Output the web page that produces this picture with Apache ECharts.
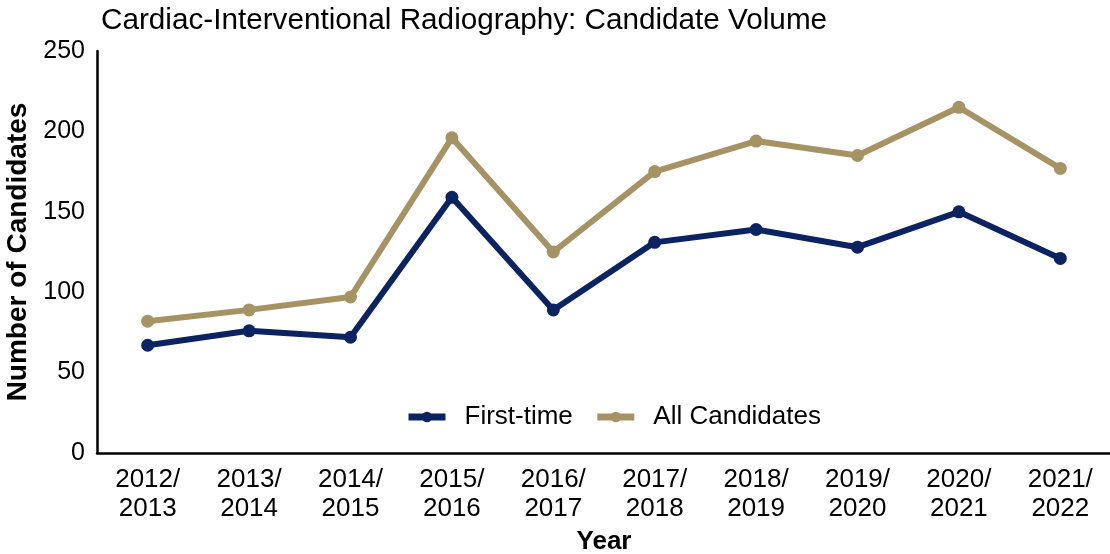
<!DOCTYPE html>
<html>
<head>
<meta charset="utf-8">
<script src="https://cdn.jsdelivr.net/npm/echarts@6/dist/echarts.min.js"></script>
<style>
  html, body { margin: 0; padding: 0; background: #fff; }
  #chart { width: 1110px; height: 554px; }
</style>
</head>
<body>
<div id="chart"></div>
<script>
// values
const years = ['2012/\n2013', '2013/\n2014', '2014/\n2015', '2015/\n2016', '2016/\n2017',
  '2017/\n2018', '2018/\n2019', '2019/\n2020', '2020/\n2021', '2021/\n2022']
const firstTime = [67, 76, 72, 159, 89, 131, 139, 128, 150, 121]
const allCandidates = [82, 89, 97, 196, 125, 175, 194, 185, 215, 177]
const yTicks = [0, 50, 100, 150, 200, 250]

const FONT = 'Liberation Sans, Arial, sans-serif'
const NAVY = '#0b2461'
const GOLD = '#a59364'

const chart = echarts.init(document.getElementById('chart'), null, { renderer: 'canvas' })

const mkSeries = (name, data, color) => ({
  name,
  type: 'line',
  data,
  symbol: 'circle',
  symbolSize: 13,
  itemStyle: { color },
  lineStyle: { color, width: 6 },
  emphasis: { disabled: true },
  z: name === 'First-time' ? 3 : 2
})

chart.setOption({
  animation: false,
  backgroundColor: '#fff',
  title: {
    text: 'Cardiac-Interventional Radiography: Candidate Volume',
    left: 96,
    top: 1,
    textStyle: { fontFamily: FONT, fontWeight: 'normal', fontSize: 29.7, color: '#000' }
  },
  // v6 would otherwise shrink the grid to keep the axis names inside
  grid: { left: 97, right: -1, top: 51, bottom: 101, containLabel: false, outerBoundsMode: 'none' },
  legend: {
    left: 400,
    top: 399,
    itemWidth: 37,
    itemHeight: 13,
    itemGap: 21,
    lineStyle: { width: 7 },
    textStyle: { fontFamily: FONT, fontSize: 26, color: '#000', padding: [0, 0, 0, 14] },
    data: ['First-time', 'All Candidates']
  },
  xAxis: {
    type: 'category',
    data: years,
    boundaryGap: true,
    name: 'Year',
    nameLocation: 'middle',
    nameGap: 76,
    nameTextStyle: { fontFamily: FONT, fontWeight: 'bold', fontSize: 26, color: '#000' },
    axisLine: { lineStyle: { color: '#000', width: 2.5 } },
    axisTick: { show: false },
    axisLabel: { fontFamily: FONT, fontSize: 26, color: '#000', lineHeight: 29, margin: 12 }
  },
  yAxis: {
    type: 'value',
    min: yTicks[0],
    max: yTicks[yTicks.length - 1],
    interval: 50,
    name: 'Number of Candidates',
    nameLocation: 'middle',
    nameGap: 63,
    nameTextStyle: { fontFamily: FONT, fontWeight: 'bold', fontSize: 28, color: '#000' },
    axisLine: { show: true, lineStyle: { color: '#000', width: 2.5 } },
    axisTick: { show: false },
    splitLine: { show: false },
    axisLabel: { fontFamily: FONT, fontSize: 25, color: '#000', margin: 12 }
  },
  series: [
    mkSeries('First-time', firstTime, NAVY),
    mkSeries('All Candidates', allCandidates, GOLD)
  ]
})
</script>
</body>
</html>
